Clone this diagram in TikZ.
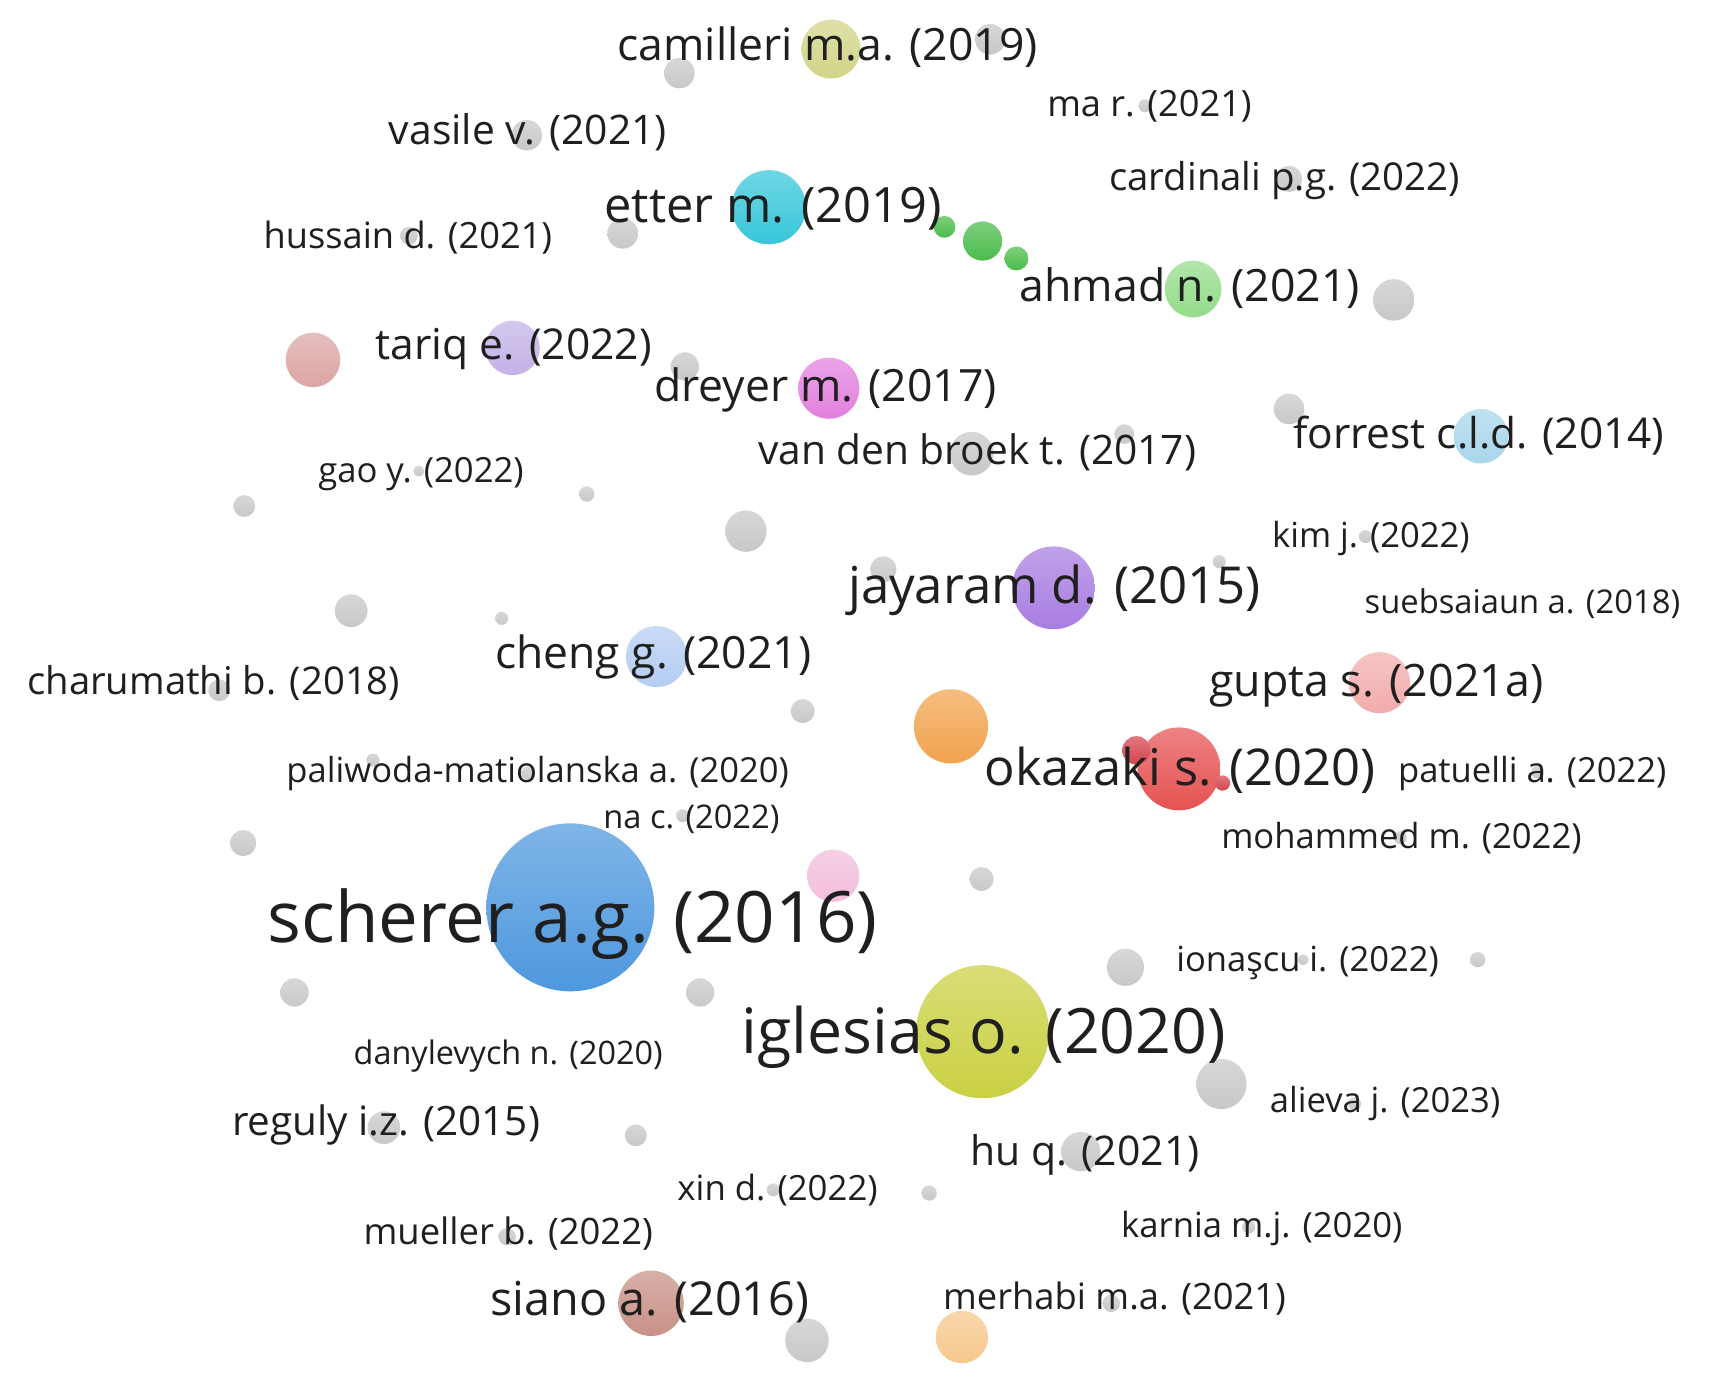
\documentclass[tikz,border=0pt]{standalone}
\usepackage{fontspec}
\setmainfont{Open Sans}
\definecolor{gry}{RGB}{200,200,200}
\definecolor{cam}{RGB}{210,212,135}
\definecolor{ett}{RGB}{55,198,218}
\definecolor{grn}{RGB}{75,188,75}
\definecolor{ahm}{RGB}{148,220,138}
\definecolor{rdl}{RGB}{220,165,165}
\definecolor{tar}{RGB}{195,178,230}
\definecolor{dre}{RGB}{225,128,222}
\definecolor{frr}{RGB}{168,214,234}
\definecolor{jay}{RGB}{168,125,225}
\definecolor{chg}{RGB}{180,205,242}
\definecolor{gup}{RGB}{242,172,172}
\definecolor{org}{RGB}{242,163,78}
\definecolor{oka}{RGB}{230,82,82}
\definecolor{okd}{RGB}{212,68,78}
\definecolor{nac}{RGB}{243,190,220}
\definecolor{sch}{RGB}{78,152,222}
\definecolor{igl}{RGB}{202,208,66}
\definecolor{sia}{RGB}{200,145,135}
\definecolor{mrh}{RGB}{246,200,140}
\newcommand\fsz[1]{\fontsize{#1pt}{#1pt}\selectfont}
\tikzset{
  bc/.style={top color=#1!72!white, bottom color=#1},
  bubble/.style={circle, inner sep=0pt, outer sep=0pt, draw=none},
  lbl/.style={inner sep=0pt, outer sep=0pt, text=black!88, anchor=base}
}
\newcommand\bub[5]{\node[bubble, minimum size={2*#4pt}, bc=#5] (#1) at (#2,#3) {};}
\newcommand\lab[5]{\node[lbl, font=\fsz{#4}] (#1) at (#2,{#3+0.33*#4}) {#5};}
\begin{document}
\begin{tikzpicture}[x=1pt, y=-1pt]
\fill[white] (0,0) rectangle (1568,1277);
\useasboundingbox (0,0) rectangle (1568,1277);
% grey bubbles
\bub{g1}{623}{67}{14}{gry}
\bub{g2}{908}{36}{14}{gry}
\bub{g3}{1050}{97}{6}{gry}
\bub{g4}{483}{124}{14}{gry}
\bub{g5}{1182}{164}{12}{gry}
\bub{g6}{571}{214}{14}{gry}
\bub{g7}{375}{216}{8}{gry}
\bub{g8}{1278}{275}{19}{gry}
\bub{g9}{628}{336}{13}{gry}
\bub{g10}{1182}{375}{14}{gry}
\bub{g11}{891}{416}{20}{gry}
\bub{g12}{1031}{398}{9}{gry}
\bub{g13}{384}{432}{5}{gry}
\bub{g14}{224}{464}{10}{gry}
\bub{g15}{538}{453}{7}{gry}
\bub{g16}{684}{487}{19}{gry}
\bub{g17}{1252}{492}{6}{gry}
\bub{g18}{1118}{515}{6}{gry}
\bub{g19}{810}{522}{12}{gry}
\bub{g20}{322}{560}{15}{gry}
\bub{g21}{460}{567}{6}{gry}
\bub{g22}{201}{633}{10}{gry}
\bub{g23}{736}{652}{11}{gry}
\bub{g24}{342}{697}{6}{gry}
\bub{g25}{484}{709}{6}{gry}
\bub{g26}{1410}{708}{6}{gry}
\bub{g27}{223}{773}{12}{gry}
\bub{g28}{900}{806}{11}{gry}
\bub{g29}{1284}{768}{6}{gry}
\bub{g30}{626}{748}{6}{gry}
\bub{g31}{1032}{887}{17}{gry}
\bub{g32}{1355}{880}{7}{gry}
\bub{g33}{1195}{880}{5}{gry}
\bub{g34}{270}{910}{13}{gry}
\bub{g35}{642}{910}{13}{gry}
\bub{g36}{1120}{994}{23}{gry}
\bub{g37}{1242}{1012}{6}{gry}
\bub{g38}{352}{1034}{15}{gry}
\bub{g39}{583}{1041}{10}{gry}
\bub{g40}{991}{1056}{18}{gry}
\bub{g41}{709}{1091}{6}{gry}
\bub{g42}{852}{1094}{7}{gry}
\bub{g43}{1145}{1125}{6}{gry}
\bub{g44}{465}{1134}{8}{gry}
\bub{g45}{740}{1229}{20}{gry}
\bub{g46}{1019}{1195}{8}{gry}
% coloured bubbles
\bub{bcam}{762}{45}{27}{cam}
\bub{bett}{705}{190}{34}{ett}
\bub{bgr1}{866}{208}{10}{grn}
\bub{bgr2}{901}{221}{18}{grn}
\bub{bgr3}{932}{237}{11}{grn}
\bub{bahm}{1094}{265}{26}{ahm}
\bub{brdl}{287}{330}{25}{rdl}
\bub{btar}{470}{319}{25}{tar}
\bub{bdre}{760}{356}{28}{dre}
\bub{bfrr}{1358}{400}{25}{frr}
\bub{bjay}{966}{539}{38}{jay}
\bub{bchg}{602}{602}{28}{chg}
\bub{bgup}{1265}{626}{28}{gup}
\bub{borg}{872}{666}{34}{org}
\bub{boka}{1081}{705}{38}{oka}
\bub{bokb}{1042}{688}{13}{okd}
\bub{bokc}{1121}{718}{7}{okd}
\bub{bnac}{764}{803}{24}{nac}
\bub{bsch}{523}{832}{77}{sch}
\bub{bigl}{901}{946}{61}{igl}
\bub{bsia}{597}{1195}{30}{sia}
\bub{bmrh}{882}{1226}{24}{mrh}
% labels
\lab{l1}{759}{42}{40.8}{camilleri m.a. (2019)}
\lab{l2}{1054}{96}{33.2}{ma r. (2021)}
\lab{l3}{484}{120}{37.4}{vasile v. (2021)}
\lab{l4}{1178}{163}{35.2}{cardinali p.g. (2022)}
\lab{l5}{709}{189}{44.7}{etter m. (2019)}
\lab{l6}{374}{217}{33.2}{hussain d. (2021)}
\lab{l7}{1091}{263}{40.9}{ahmad n. (2021)}
\lab{l8}{471}{317}{39}{tariq e. (2022)}
\lab{l9}{757}{355}{40.8}{dreyer m. (2017)}
\lab{l10}{1356}{398}{38.9}{forrest c.l.d. (2014)}
\lab{l11}{896}{414}{37.3}{van den broek t. (2017)}
\lab{l12}{386}{432}{31.8}{gao y. (2022)}
\lab{l13}{1257}{492}{31.7}{kim j. (2022)}
\lab{l14}{967}{538}{46.7}{jayaram d. (2015)}
\lab{l15}{1396}{553}{30}{suebsaiaun a. (2018)}
\lab{l16}{599}{600}{40.7}{cheng g. (2021)}
\lab{l17}{196}{625}{35.1}{charumathi b. (2018)}
\lab{l18}{1262}{625}{41}{gupta s. (2021a)}
\lab{l19}{1082}{705}{46.5}{okazaki s. (2020)}
\lab{l20}{493}{707}{31.7}{paliwoda-matiolanska a. (2020)}
\lab{l21}{1405}{707}{31.7}{patuelli a. (2022)}
\lab{l22}{634}{750}{29.9}{na c. (2022)}
\lab{l23}{1285}{768}{31.7}{mohammed m. (2022)}
\lab{l24}{525}{843}{65}{scherer a.g. (2016)}
\lab{l25}{1199}{880}{31.7}{ionaşcu i. (2022)}
\lab{l26}{902}{947}{57.4}{iglesias o. (2020)}
\lab{l27}{466}{966}{29.7}{danylevych n. (2020)}
\lab{l28}{1270}{1010}{31.7}{alieva j. (2023)}
\lab{l29}{354}{1029}{37.1}{reguly i.z. (2015)}
\lab{l30}{995}{1056}{37.5}{hu q. (2021)}
\lab{l31}{713}{1090}{31.9}{xin d. (2022)}
\lab{l32}{1157}{1124}{31.8}{karnia m.j. (2020)}
\lab{l33}{466}{1130}{33.4}{mueller b. (2022)}
\lab{l34}{596}{1192}{42.9}{siano a. (2016)}
\lab{l35}{1022}{1190}{33.3}{merhabi m.a. (2021)}
\end{tikzpicture}
\end{document}
